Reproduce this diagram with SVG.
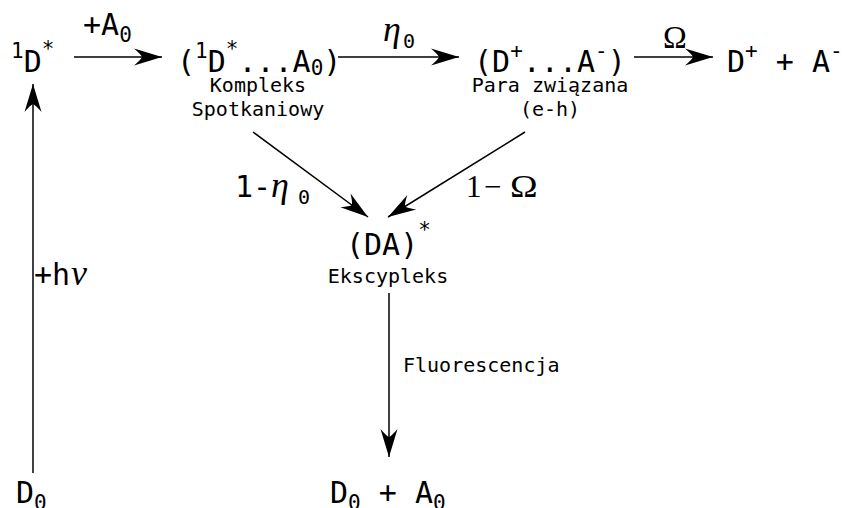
<svg xmlns="http://www.w3.org/2000/svg" width="844" height="508" viewBox="0 0 844 508">
<style>
.m{font-family:"DejaVu Sans Mono",monospace;fill:#000}
.big{font-size:30px}
.sm{font-size:20px}
.ser{font-family:"Liberation Serif","DejaVu Serif",serif;fill:#000}
.it{font-style:italic}
.c{text-anchor:middle}
line{stroke:#000;stroke-width:1.5}
</style>
<defs>
<marker id="ah" markerUnits="userSpaceOnUse" markerWidth="32" markerHeight="20" viewBox="-30 -10 32 20" refX="0" refY="0" orient="auto">
<path d="M0,0 L-28,-8.5 Q-21,-2.5 -20,0 Q-21,2.5 -28,8.5 Z" fill="#000"/>
</marker>
</defs>
<rect width="844" height="508" fill="#fff"/>
<g id="connectors">
<line x1="74" y1="57" x2="162" y2="57" marker-end="url(#ah)"/>
<line x1="338" y1="57" x2="459" y2="57" marker-end="url(#ah)"/>
<line x1="634" y1="57" x2="713" y2="57" marker-end="url(#ah)"/>
<line x1="253" y1="132" x2="368" y2="217" marker-end="url(#ah)"/>
<line x1="525" y1="132" x2="388" y2="217" marker-end="url(#ah)"/>
<line x1="389" y1="293" x2="389" y2="457" marker-end="url(#ah)"/>
<line x1="33" y1="473" x2="33" y2="84" marker-end="url(#ah)"/>
<text class="m big" x="83" y="35">+A<tspan font-size="21" dy="7">0</tspan></text>
<text class="ser it" font-size="36" x="383" y="41">η</text>
<text class="m" font-size="20" x="403" y="48">0</text>
<text class="ser" font-size="32" x="675" y="48" text-anchor="middle">Ω</text>
<text class="m big" x="235" y="197">1-</text>
<text class="ser it" font-size="36" x="271" y="197">η</text>
<text class="m" font-size="20" x="298" y="204">0</text>
<text class="ser" font-size="31" x="466" y="197">1</text>
<text class="ser" font-size="31" x="484" y="197">−</text>
<text class="ser" font-size="31" x="510" y="197" transform="translate(510 0) scale(1.2 1) translate(-510 0)">Ω</text>
<text class="m big" x="34" y="285">+h</text>
<text class="ser it" font-size="36" x="71" y="285">ν</text>
<text class="m sm" x="403" y="372">Fluorescencja</text>
</g>
<g id="n1D">
<text class="m big" x="11" y="72"><tspan font-size="21" dy="-14">1</tspan><tspan dy="14">D</tspan><tspan font-size="21" dy="-16">*</tspan></text>
</g>
<g id="nKompleks">
<text class="m big" x="177" y="72">(<tspan font-size="21" dy="-14">1</tspan><tspan dy="14">D</tspan><tspan font-size="21" dy="-16">*</tspan><tspan dy="16">...A</tspan><tspan font-size="21" dy="3">0</tspan><tspan dy="-3">)</tspan></text>
<text class="m sm c" x="258" y="92">Kompleks</text>
<text class="m sm c" x="258" y="116">Spotkaniowy</text>
</g>
<g id="nPara">
<text class="m big" x="474" y="72">(D<tspan font-size="21" dy="-14">+</tspan><tspan dy="14">...A</tspan><tspan font-size="21" dy="-14">-</tspan><tspan dy="14">)</tspan></text>
<text class="m sm c" x="550" y="92">Para związana</text>
<text class="m sm c" x="550" y="116">(e-h)</text>
</g>
<g id="nDA">
<text class="m big" x="727" y="72">D<tspan font-size="21" dy="-14">+</tspan><tspan dy="14"> + A</tspan><tspan font-size="21" dy="-14">-</tspan></text>
</g>
<g id="nEks">
<text class="m big" x="346" y="255">(DA)<tspan font-size="21" dy="-18">*</tspan></text>
<text class="m sm c" x="388" y="283">Ekscypleks</text>
</g>
<g id="nD0">
<text class="m big" x="16" y="503">D<tspan font-size="21" dy="7">0</tspan></text>
</g>
<g id="nD0A0">
<text class="m big" x="330" y="503">D<tspan font-size="21" dy="7">0</tspan><tspan dy="-7"> + A</tspan><tspan font-size="21" dy="7">0</tspan></text>
</g>
</svg>
